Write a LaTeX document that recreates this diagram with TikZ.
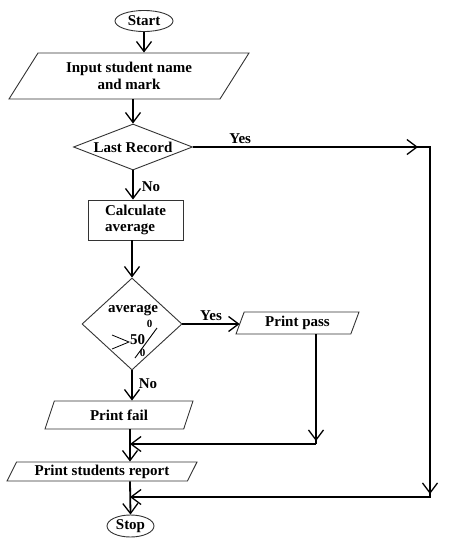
\documentclass[tikz,border=0pt]{standalone}
\usepackage{fontspec}
\setmainfont{Liberation Serif}
\usetikzlibrary{shapes.geometric,arrows.meta}
\tikzset{
  box/.style={draw=black!80, line width=0.9pt, inner sep=0pt, font=\fontsize{15}{16.5}\selectfont\bfseries},
  io/.style={box, trapezium, trapezium stretches body},
  flow/.style={line width=1.8pt, -{Straight Barb[length=10pt,width=15pt,line width=1.3pt]}},
  wire/.style={line width=1.8pt},
  lbl/.style={inner sep=2pt, font=\fontsize{15}{16.5}\selectfont\bfseries},
  digit/.style={inner sep=0pt, font=\fontsize{11}{11}\selectfont\bfseries}
}
\begin{document}
\begin{tikzpicture}[x=1pt,y=-1pt]
\useasboundingbox (0,0) rectangle (448,544);
% shapes
\node[box, ellipse, minimum width=58pt, minimum height=21pt] (start) at (144,21) {Start};
\node[io, trapezium left angle=43, trapezium right angle=137, minimum width=240pt, minimum height=46pt, align=center] (input) at (129,76) {Input student name\\and mark};
\node[box, diamond, aspect=2.6, minimum width=119pt, minimum height=46pt] (last) at (133,147) {Last Record};
\node[box, minimum width=95pt, minimum height=40pt, align=left] (calc) at (135.5,220) {Calculate\\average};
\node[box, diamond, minimum width=100pt, minimum height=92pt] (avg) at (132,324) {};
\node[io, trapezium left angle=59, trapezium right angle=121, minimum width=123pt, minimum height=22pt] (pass) at (297.5,323) {Print pass};
\node[io, trapezium left angle=49, trapezium right angle=131, minimum width=148pt, minimum height=28pt] (fail) at (119,415) {Print fail};
\node[io, trapezium left angle=55, trapezium right angle=125, minimum width=190pt, minimum height=19pt] (report) at (102,471.5) {Print students report};
\node[box, ellipse, minimum width=47pt, minimum height=22pt] (stop) at (130.5,526) {Stop};
% text of the test
\node[lbl] (avgtext) at (133,310) {average};
\node[lbl, inner sep=0pt] (fifty) at (137.5,340) {50};
\node[digit] (pcttop) at (149.5,323.5) {0};
\node[digit] (pctbot) at (142.5,352.5) {0};
\draw[line width=0.8pt] (112,335) -- (129,342) -- (112,349);
\draw[line width=0.9pt] (157,328) -- (135,358);
% turning points
\coordinate (yesc) at (430,147);
\coordinate (yesd) at (430,497);
\coordinate (passc) at (316,444);
\coordinate (mergea) at (130,444);
\coordinate (mergeb) at (130,497);
% connectors
\draw[flow] (start.south) -- (start.south |- input.north);
\draw[flow] (last.north |- input.south) -- (last.north);
\draw[wire] (last.east) -- (yesc) -- (yesd) -- (mergeb);
\draw[flow] (last.east) -- node[lbl, above, pos=0.21] {Yes} ([xshift=-12pt]yesc);
\draw[flow] (yesc) -- ([yshift=3pt]yesd);
\draw[flow] (yesd) -- (mergeb);
\draw[flow] (last.south) -- node[lbl, right, pos=0.55, xshift=6pt] {No} (last.south |- calc.north);
\draw[flow] (avg.north |- calc.south) -- (avg.north);
\draw[flow] (avg.east) -- node[lbl, above] {Yes} (avg.east -| pass.west);
\draw[flow] (avg.south) -- node[lbl, right, pos=0.45, xshift=4pt] {No} (avg.south |- fail.north);
\draw[wire] (passc |- pass.south) -- (passc);
\draw[flow] (passc |- pass.south) -- ([yshift=3pt]passc);
\draw[flow] (passc) -- (mergea);
\draw[flow] (mergea |- fail.south) -- (mergea |- report.north);
\draw[flow] (mergeb |- report.south) -- (stop.north);
\end{tikzpicture}
\end{document}
